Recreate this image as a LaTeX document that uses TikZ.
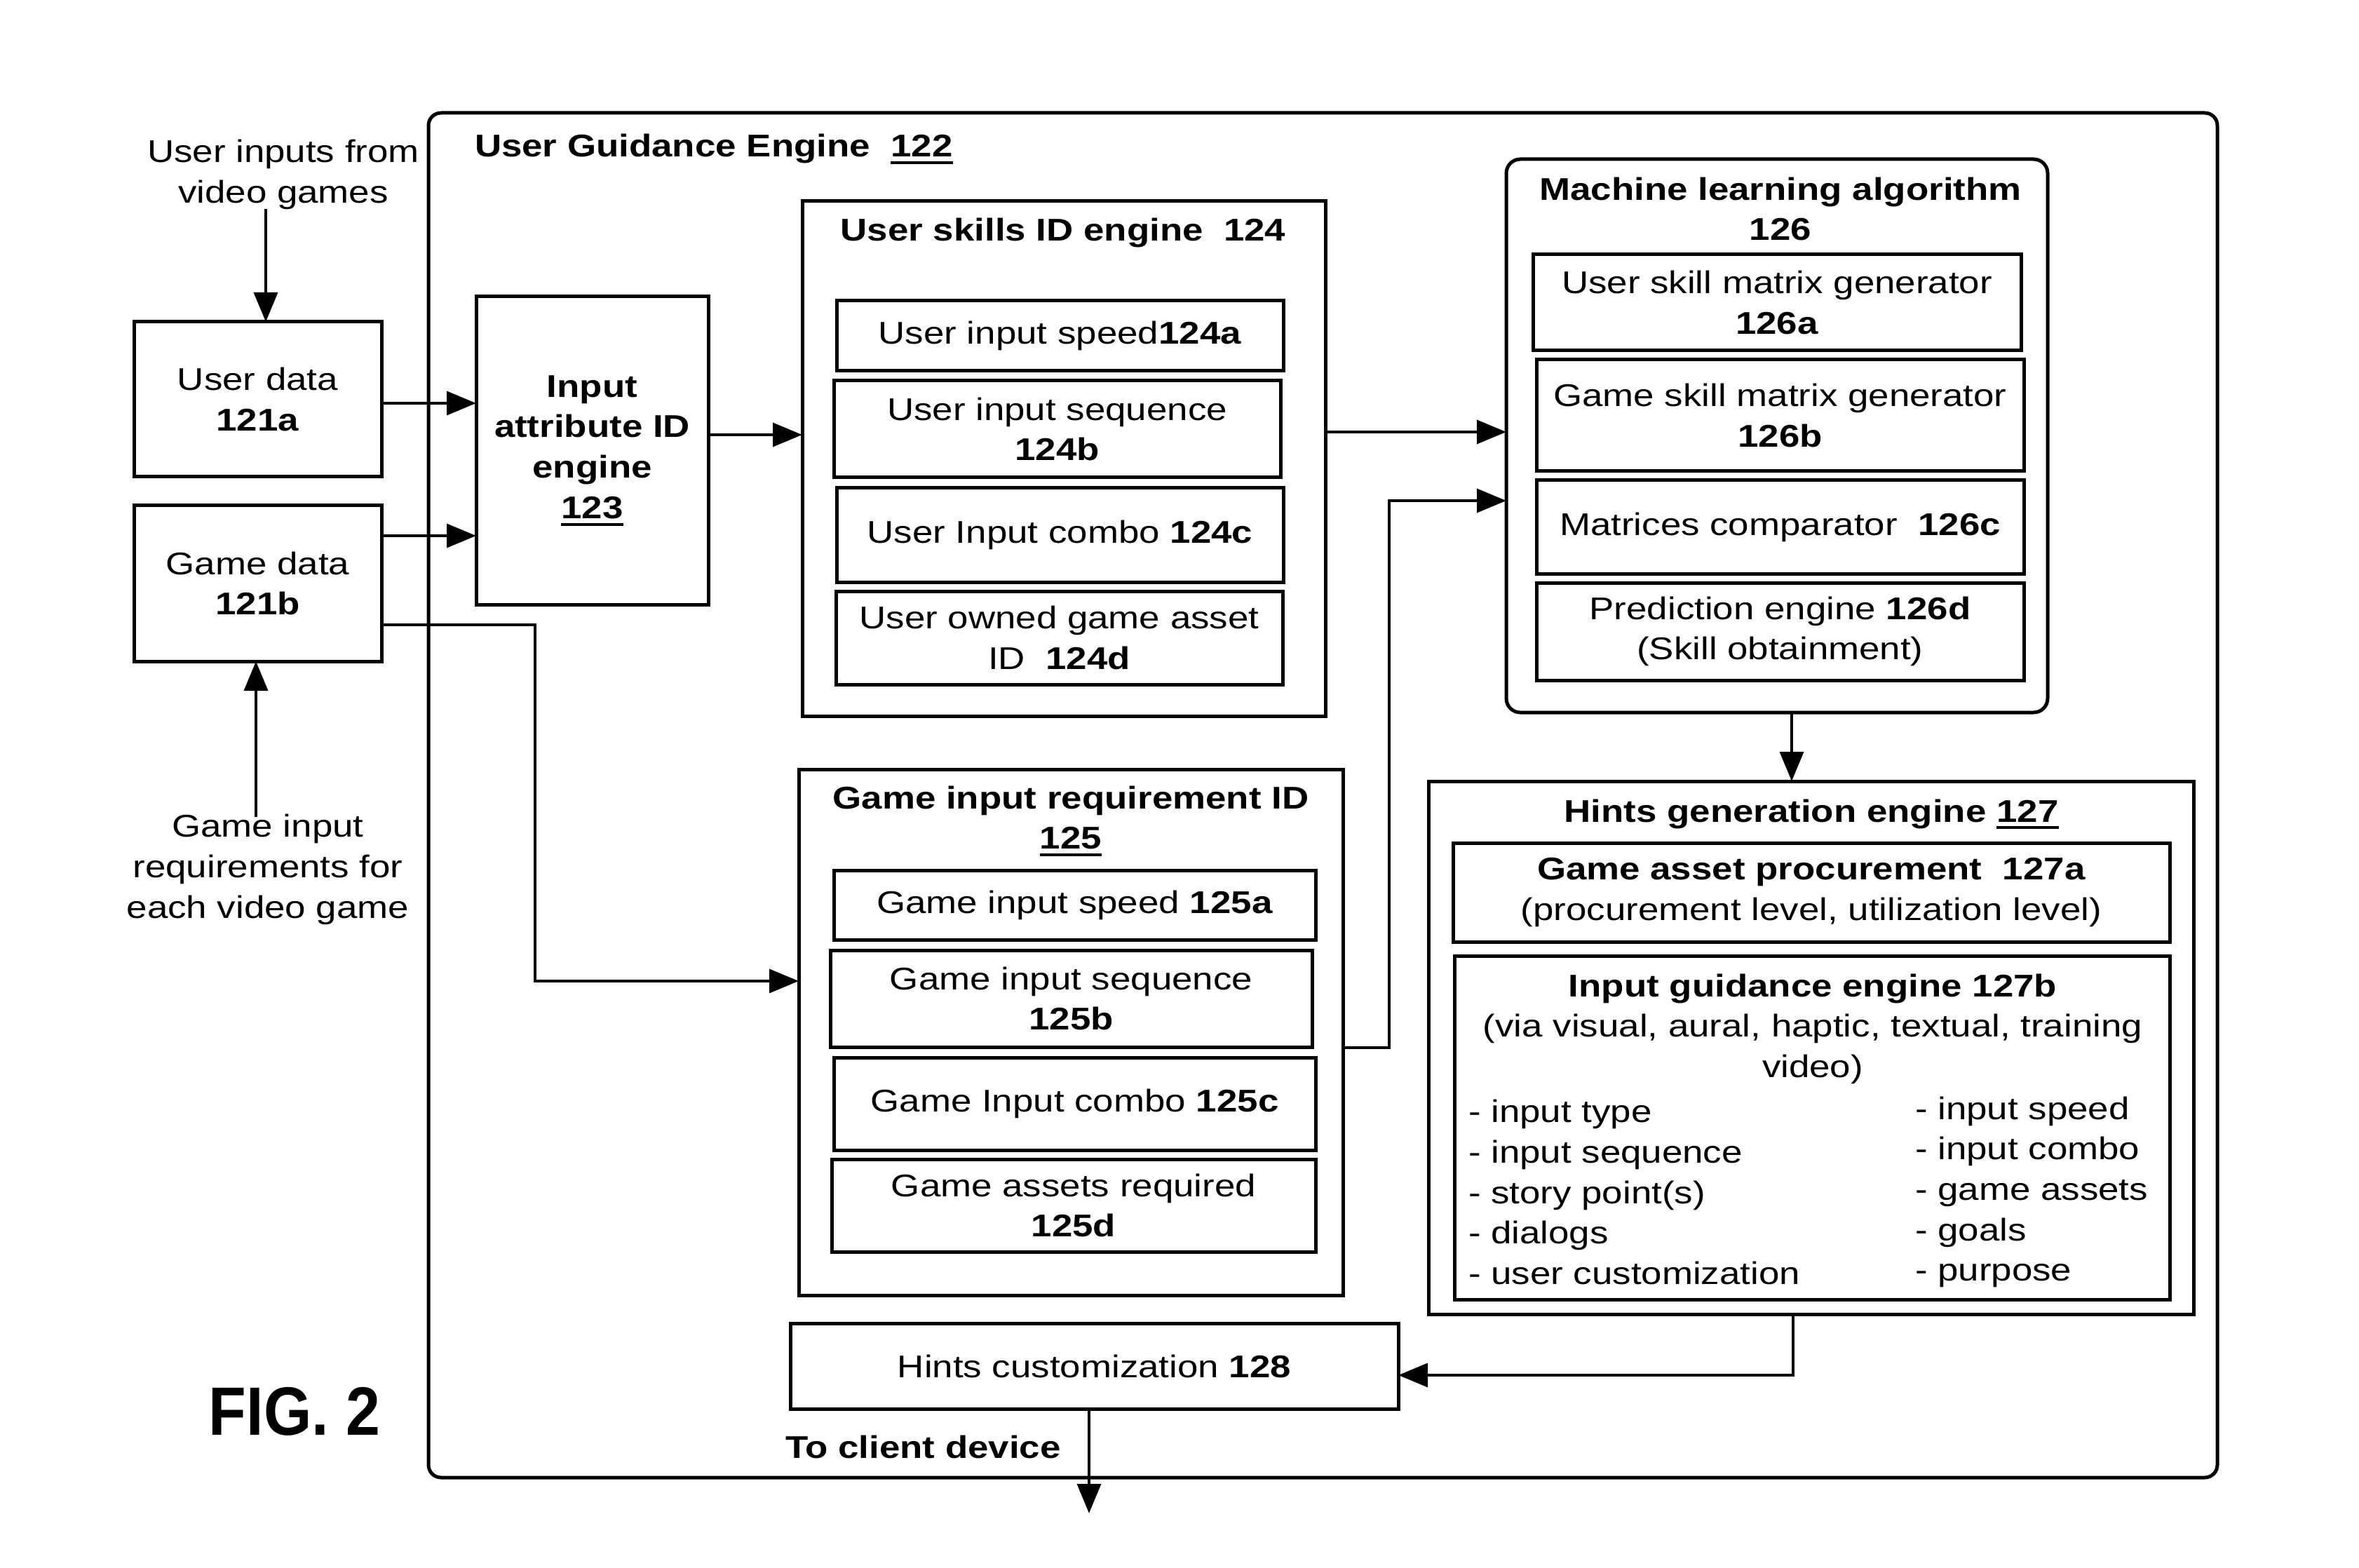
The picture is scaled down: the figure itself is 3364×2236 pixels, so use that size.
\documentclass[tikz,border=0pt]{standalone}
\usepackage{fontspec}
\setmainfont{Liberation Sans}[FakeStretch=1.18]
\newfontfamily\figfont{Liberation Sans}[FakeStretch=0.9]
\usetikzlibrary{arrows.meta}
\newcommand\bxnode[6][]{\node[box,#1,minimum width={(#4-#2)*0.25pt},minimum height={(#5-#3)*0.25pt}] (#6) at ({(#2+#4)/2},{(#3+#5)/2})}
\newcommand\thickul[1]{\setbox0\hbox{#1}\leavevmode\rlap{\rule[-2.6pt]{\wd0}{1pt}}\box0}
\begin{document}
\begin{tikzpicture}[x=0.25pt,y=-0.25pt,
  every node/.style={inner sep=0pt, outer sep=0pt, align=center, font=\fontsize{11.2}{14.4}\selectfont},
  box/.style={draw, line width=1.25pt, rectangle},
  arr/.style={line width=1.2pt, -{Triangle[length=10.5pt,width=8.4pt]}}]
\useasboundingbox (0,0) rectangle (3364,2236);

% outer engine
\bxnode[rounded corners=4.5pt]{611}{161}{3162}{2107}{uge} {};
\node[anchor=base west] (ugetitle) at (677,224) {\textbf{User Guidance Engine\ \ \thickul{122}}};

% left captions
\node (cap1) at (404,249) {User inputs from\\video games};
\node (cap2) at (382,1240) {Game input\\requirements for\\each video game};
\node[font=\figfont\fontsize{24.4}{28}\selectfont\bfseries] (fig) at (420,2013) {FIG. 2};

% data boxes
\bxnode{191}{459}{544}{680}{ud} {User data\\\textbf{121a}};
\bxnode{191}{721}{544}{943}{gd} {Game data\\\textbf{121b}};
\bxnode{679}{423}{1010}{862}{iae} {\textbf{Input}\\\textbf{attribute ID}\\\textbf{engine}\\\textbf{\thickul{123}}};

% user skills 124
\bxnode{1144}{287}{1890}{1021}{u124} {};
\node (u124t) at (1516,332) {\textbf{User skills ID engine\ \ 124}};
\bxnode{1193}{429}{1830}{529}{u124a} {User input speed\textbf{124a}};
\bxnode{1189}{543}{1826}{681}{u124b} {User input sequence\\\textbf{124b}};
\bxnode{1193}{696}{1830}{830}{u124c} {User Input combo \textbf{124c}};
\bxnode{1192}{843}{1829}{976}{u124d} {User owned game asset\\ID\ \ \textbf{124d}};

% machine learning 126
\bxnode[rounded corners=5pt]{2148}{227}{2920}{1016}{ml} {};
\node (mlt) at (2539,298) {\textbf{Machine learning algorithm}\\\textbf{126}};
\bxnode{2186}{363}{2882}{500}{mla} {User skill matrix generator\\\textbf{126a}};
\bxnode{2191}{513}{2886}{672}{mlb} {Game skill matrix generator\\\textbf{126b}};
\bxnode{2191}{685}{2886}{818}{mlc} {Matrices comparator\ \ \textbf{126c}};
\bxnode{2191}{831}{2886}{970}{mld} {Prediction engine \textbf{126d}\\(Skill obtainment)};

% game input requirement 125
\bxnode{1139}{1097}{1915}{1847}{g125} {};
\node (g125t) at (1527,1171) {\textbf{Game input requirement ID}\\\textbf{\thickul{125}}};
\bxnode{1189}{1241}{1876}{1340}{g125a} {Game input speed \textbf{125a}};
\bxnode{1184}{1355}{1871}{1493}{g125b} {Game input sequence\\\textbf{125b}};
\bxnode{1189}{1508}{1876}{1640}{g125c} {Game Input combo \textbf{125c}};
\bxnode{1186}{1653}{1876}{1785}{g125d} {Game assets required\\\textbf{125d}};

% hints generation 127
\bxnode{2037}{1114}{3128}{1874}{h127} {};
\node (h127t) at (2583,1161) {\textbf{Hints generation engine \thickul{127}}};
\bxnode{2072}{1202}{3094}{1343}{h127a} {\textbf{Game asset procurement\ \ 127a}\\(procurement level, utilization level)};
\bxnode{2074}{1363}{3094}{1853}{h127b} {};
\node (h127bt) at (2585,1467) {\textbf{Input guidance engine 127b}\\(via visual, aural, haptic, textual, training\\video)};
\node[anchor=west, align=left] (listl) at (2094,1700) {- input type\\- input sequence\\- story point(s)\\- dialogs\\- user customization};
\node[anchor=west, align=left] (listr) at (2731,1700) {- input speed\\- input combo\\- game assets\\- goals\\- purpose};

% hints customization 128
\bxnode{1127}{1887}{1994}{2009}{h128} {Hints customization \textbf{128}};
\node[anchor=base west] (tcd) at (1120,2079) {\textbf{To client device}};

% connectors
\coordinate (c1) at (379,298);
\draw[arr] (c1) -- (c1 |- ud.north);
\coordinate (c2) at (365,1165);
\draw[arr] (c2) -- (c2 |- gd.south);
\draw[arr] (ud.east |- 0,575) -- (iae.west |- 0,575);
\draw[arr] (gd.east |- 0,764) -- (iae.west |- 0,764);
\draw[arr] (gd.east |- 0,891) -| (763,1399) -- (g125.west |- 0,1399);
\draw[arr] (iae.east |- 0,620) -- (u124.west |- 0,620);
\draw[arr] (u124.east |- 0,616) -- (ml.west |- 0,616);
\draw[arr] (g125.east |- 0,1494) -| (1981,714) -- (ml.west |- 0,714);
\draw[arr] (ml.south -| 2555,0) -- (h127.north -| 2555,0);
\draw[arr] (h127.south -| 2557,0) |- (h128.east |- 0,1961);
\coordinate (out) at (1553,2158);
\draw[arr] (h128.south -| out) -- (out);
\end{tikzpicture}
\end{document}
